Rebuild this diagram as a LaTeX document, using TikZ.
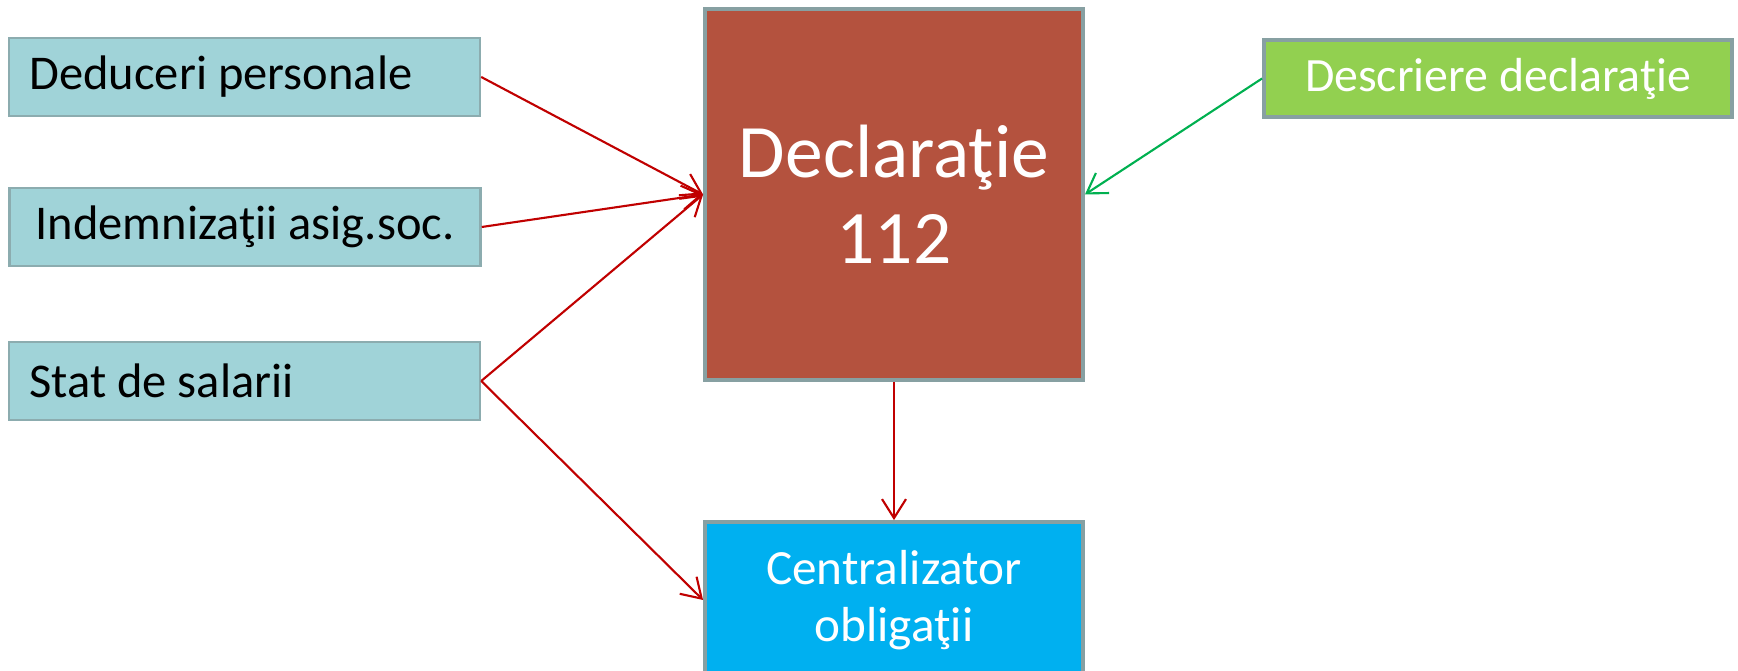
\documentclass[tikz,border=0pt]{standalone}
\usepackage{fontspec}
\setmainfont{Carlito}
\usetikzlibrary{arrows.meta}
\definecolor{mycyan}{RGB}{160,211,216}
\definecolor{mycyanborder}{RGB}{140,172,175}
\definecolor{myborder}{RGB}{135,160,162}
\definecolor{mybrick}{RGB}{180,82,62}
\definecolor{mygreen}{RGB}{146,208,80}
\definecolor{myblue}{RGB}{0,176,240}
\definecolor{myred}{RGB}{192,0,0}
\definecolor{mylinegreen}{RGB}{0,176,80}

\begin{document}
\begin{tikzpicture}[x=1mm, y=1mm,
    inbox/.style={draw=mycyanborder, line width=0.7pt, fill=mycyan,
        minimum width=47.1mm, minimum height=7.8mm, inner sep=0pt,
        text width=43mm, align=flush left, font=\fontsize{13.8}{15}\selectfont},
    bigbox/.style={draw=myborder, line width=1.1pt, inner sep=0pt,
        minimum width=37.8mm, text=white, align=center},
    flow/.style={draw=myred, line width=0.6pt,
        -{Straight Barb[length=1.9mm, width=2.4mm]}}]
    \useasboundingbox (0, 0) rectangle (173.8, -67.1);
    % Sources
    \node[inbox] (Deduceri) at (24.45, -7.7) {Deduceri personale};
    \node[inbox, align=flush center] (Indemn) at (24.5, -22.7) {Indemnizaţii asig.soc.};
    \node[inbox] (Stat) at (24.45, -38.1) {Stat de salarii};
    % Declaration
    \node[bigbox, fill=mybrick, minimum height=37.1mm,
        font=\fontsize{21.5}{24.5}\selectfont] (Decl) at (89.4, -19.45) {Declaraţie\\112};
    \node[bigbox, fill=mygreen, minimum width=46.8mm, minimum height=7.7mm,
        font=\fontsize{13.6}{15}\selectfont] (Descr) at (149.8, -7.85) {Descriere declaraţie};
    \node[bigbox, fill=myblue, minimum height=15.6mm,
        font=\fontsize{14}{16.3}\selectfont] (Centr) at (89.4, -60) {Centralizator\\obligaţii};
    % Arrows
    \draw[flow] (Deduceri.east) -- (Decl.west);
    \draw[flow] (Indemn.east) -- (Decl.west);
    \draw[flow] (Stat.east) -- (Decl.west);
    \draw[flow] (Stat.east) -- (Centr.west);
    \draw[flow] (Decl.south) -- (Centr.north);
    \draw[flow, draw=mylinegreen] (Descr.west) -- (Decl.east);
\end{tikzpicture}
\end{document}
